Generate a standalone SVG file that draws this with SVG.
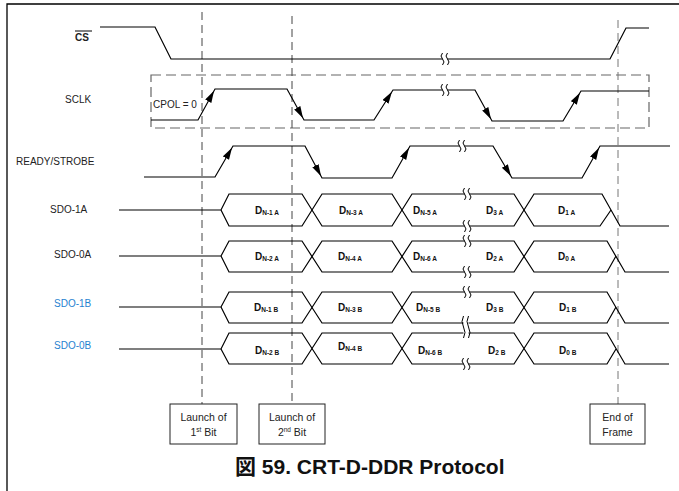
<svg xmlns="http://www.w3.org/2000/svg" xmlns:xlink="http://www.w3.org/1999/xlink" width="679" height="491" viewBox="0 0 679 491">
<style>
text{font-family:"Liberation Sans",Arial,"Noto Sans CJK JP",sans-serif;}
.lbl{font-size:10px;fill:#222;}
.blue{fill:#1f82d0;}
.sig{fill:none;stroke:#000;stroke-width:1.2;stroke-linejoin:miter;}
.dash{fill:none;stroke:#444;stroke-width:1;stroke-dasharray:8,5;}
.box{fill:#fff;stroke:#222;stroke-width:1;}
.cell{font-size:10px;font-weight:bold;fill:#111;}
.sub{font-size:6.5px;}
.bt{font-size:10.5px;fill:#222;text-anchor:middle;}
</style>
<defs>
<marker id="ah" markerUnits="userSpaceOnUse" markerWidth="16" markerHeight="8" refX="14" refY="3.5" orient="auto">
<path d="M0,0 L12,3.5 L0,7 z" fill="#000"/>
</marker>
<g id="brk">
<rect x="-2.5" y="-2" width="5" height="4" fill="#fff"/>
<path d="M-2.5,-6 q-3,3 0,6 q3,3 0,6 M2.5,-6 q-3,3 0,6 q3,3 0,6" fill="none" stroke="#000" stroke-width="1"/>
</g>
<g id="brk2">
<rect x="-2.5" y="-12" width="5" height="24" fill="#fff"/>
<path d="M-2.5,-11 q-3,5.5 0,11 q3,5.5 0,11 M2.5,-11 q-3,5.5 0,11 q3,5.5 0,11" fill="none" stroke="#000" stroke-width="1"/>
</g>
</defs>
<rect width="679" height="491" fill="#fff"/>
<g id="frame">
<path d="M7,491 V4 H679" fill="none" stroke="#000" stroke-width="1.3"/>
</g>

<g id="labels">
<text x="75" y="41" class="lbl" font-weight="bold">CS</text>
<line x1="75" y1="31" x2="92" y2="31" stroke="#000" stroke-width="1"/>
<text x="65" y="103" class="lbl">SCLK</text>
<text x="16" y="165" class="lbl">READY/STROBE</text>
<text x="50" y="213" class="lbl">SDO-1A</text>
<text x="54" y="258" class="lbl">SDO-0A</text>
<text x="54" y="307" class="lbl blue">SDO-1B</text>
<text x="54" y="349" class="lbl blue">SDO-0B</text>
<text x="153" y="108" class="lbl">CPOL = 0</text>
</g>

<g id="sclk-box">
<rect x="151" y="75" width="498" height="53" class="dash" style="stroke:#666;stroke-width:1.2;stroke-dasharray:10,5"/>
</g>

<g id="connectors">
<line x1="202" y1="12" x2="202" y2="404" class="dash"/>
<line x1="292" y1="16" x2="292" y2="404" class="dash"/>
<line x1="618" y1="20" x2="618" y2="404" class="dash" style="stroke:#777"/>
</g>

<g id="cs">
<polyline class="sig" points="100,27 155,27 171,59 610,59 626,28 649,28"/>
<use xlink:href="#brk" x="445" y="59"/>
</g>

<g id="sclk">
<polyline class="sig" points="151,120 198,120 215,89 287,89 304,120 374,120 393,90 475,90 492,121 563,121 581,91 649,91"/>
<line x1="198" y1="120" x2="215" y2="89" stroke="none" marker-end="url(#ah)"/>
<line x1="287" y1="89" x2="304" y2="120" stroke="none" marker-end="url(#ah)"/>
<line x1="374" y1="120" x2="393" y2="90" stroke="none" marker-end="url(#ah)"/>
<line x1="475" y1="90" x2="492" y2="121" stroke="none" marker-end="url(#ah)"/>
<line x1="563" y1="121" x2="581" y2="91" stroke="none" marker-end="url(#ah)"/>
<use xlink:href="#brk" x="445" y="90"/>
</g>

<g id="ready">
<polyline class="sig" points="144,177 215,177 233,146 305,146 322,178 392,178 410,146 493,146 512,178 582,178 600,146 670,146"/>
<line x1="215" y1="177" x2="233" y2="146" stroke="none" marker-end="url(#ah)"/>
<line x1="305" y1="146" x2="322" y2="178" stroke="none" marker-end="url(#ah)"/>
<line x1="392" y1="178" x2="410" y2="146" stroke="none" marker-end="url(#ah)"/>
<line x1="493" y1="146" x2="512" y2="178" stroke="none" marker-end="url(#ah)"/>
<line x1="582" y1="178" x2="600" y2="146" stroke="none" marker-end="url(#ah)"/>
<use xlink:href="#brk" x="462" y="146"/>
</g>

<g id="sdo1a">
<polyline class="sig" points="119,210 221,210 229,194 302,194 322,226 392,226 412,194 514,194 534,226 600,226 611,210"/>
<polyline class="sig" points="221,210 229,226 302,226 322,194 392,194 412,226 514,226 534,194 602,194 620,226 669,226"/>
<use xlink:href="#brk" x="467" y="194"/>
<use xlink:href="#brk" x="467" y="226"/>
<text class="cell" x="255" y="214">D<tspan class="sub" dy="1">N-1 A</tspan></text>
<text class="cell" x="339" y="214">D<tspan class="sub" dy="1">N-3 A</tspan></text>
<text class="cell" x="413" y="214">D<tspan class="sub" dy="1">N-5 A</tspan></text>
<text class="cell" x="486" y="214">D<tspan class="sub" dy="1">3 A</tspan></text>
<text class="cell" x="558" y="214">D<tspan class="sub" dy="1">1 A</tspan></text>
</g>

<g id="sdo0a">
<polyline class="sig" points="119,256 221,256 229,241 302,241 322,272 392,272 412,241 514,241 534,272 607,272 616,256"/>
<polyline class="sig" points="221,256 229,272 302,272 322,241 392,241 412,272 514,272 534,241 607,241 625,272 669,272"/>
<use xlink:href="#brk" x="467" y="241"/>
<use xlink:href="#brk" x="467" y="272"/>
<text class="cell" x="255" y="260">D<tspan class="sub" dy="1">N-2 A</tspan></text>
<text class="cell" x="338" y="260">D<tspan class="sub" dy="1">N-4 A</tspan></text>
<text class="cell" x="413" y="260">D<tspan class="sub" dy="1">N-6 A</tspan></text>
<text class="cell" x="486" y="260">D<tspan class="sub" dy="1">2 A</tspan></text>
<text class="cell" x="558" y="260">D<tspan class="sub" dy="1">0 A</tspan></text>
</g>

<g id="sdo1b">
<polyline class="sig" points="119,307 221,307 229,292 302,292 322,323 392,323 412,292 514,292 534,323 607,323 616,307"/>
<polyline class="sig" points="221,307 229,323 302,323 322,292 392,292 412,323 514,323 534,292 607,292 625,323 669,323"/>
<use xlink:href="#brk" x="467" y="292"/>
<text class="cell blue" x="254" y="311">D<tspan class="sub" dy="1">N-1 B</tspan></text>
<text class="cell blue" x="338" y="311">D<tspan class="sub" dy="1">N-3 B</tspan></text>
<text class="cell blue" x="416" y="311">D<tspan class="sub" dy="1">N-5 B</tspan></text>
<text class="cell blue" x="486" y="311">D<tspan class="sub" dy="1">3 B</tspan></text>
<text class="cell blue" x="559" y="311">D<tspan class="sub" dy="1">1 B</tspan></text>
</g>

<g id="sdo0b">
<polyline class="sig" points="119,349 221,349 229,333 302,333 322,364 392,364 412,333 514,333 534,364 607,364 616,349"/>
<polyline class="sig" points="221,349 229,364 302,364 322,333 392,333 412,364 514,364 534,333 607,333 625,364 669,364"/>
<use xlink:href="#brk2" x="466" y="327"/>
<use xlink:href="#brk" x="466" y="364"/>
<text class="cell blue" x="255" y="354">D<tspan class="sub" dy="1">N-2 B</tspan></text>
<text class="cell blue" x="338" y="350">D<tspan class="sub" dy="1">N-4 B</tspan></text>
<text class="cell blue" x="418" y="354">D<tspan class="sub" dy="1">N-6 B</tspan></text>
<text class="cell blue" x="488" y="354">D<tspan class="sub" dy="1">2 B</tspan></text>
<text class="cell blue" x="559" y="354">D<tspan class="sub" dy="1">0 B</tspan></text>
</g>

<g id="box1">
<rect class="box" x="170" y="404" width="67" height="40"/>
<text class="bt" x="203.5" y="421">Launch of</text>
<text class="bt" x="203.5" y="436">1<tspan font-size="6.5" dy="-4">st</tspan><tspan dy="4"> Bit</tspan></text>
</g>
<g id="box2">
<rect class="box" x="259" y="404" width="66" height="40"/>
<text class="bt" x="292" y="421">Launch of</text>
<text class="bt" x="292" y="436">2<tspan font-size="6.5" dy="-4">nd</tspan><tspan dy="4"> Bit</tspan></text>
</g>
<g id="box3">
<rect class="box" x="590" y="404" width="55" height="40"/>
<text class="bt" x="617.5" y="421">End of</text>
<text class="bt" x="617.5" y="436">Frame</text>
</g>

<g id="caption">
<text x="235" y="474" font-size="21" font-weight="bold" fill="#111">図 59. CRT-D-DDR Protocol</text>
</g>
</svg>
